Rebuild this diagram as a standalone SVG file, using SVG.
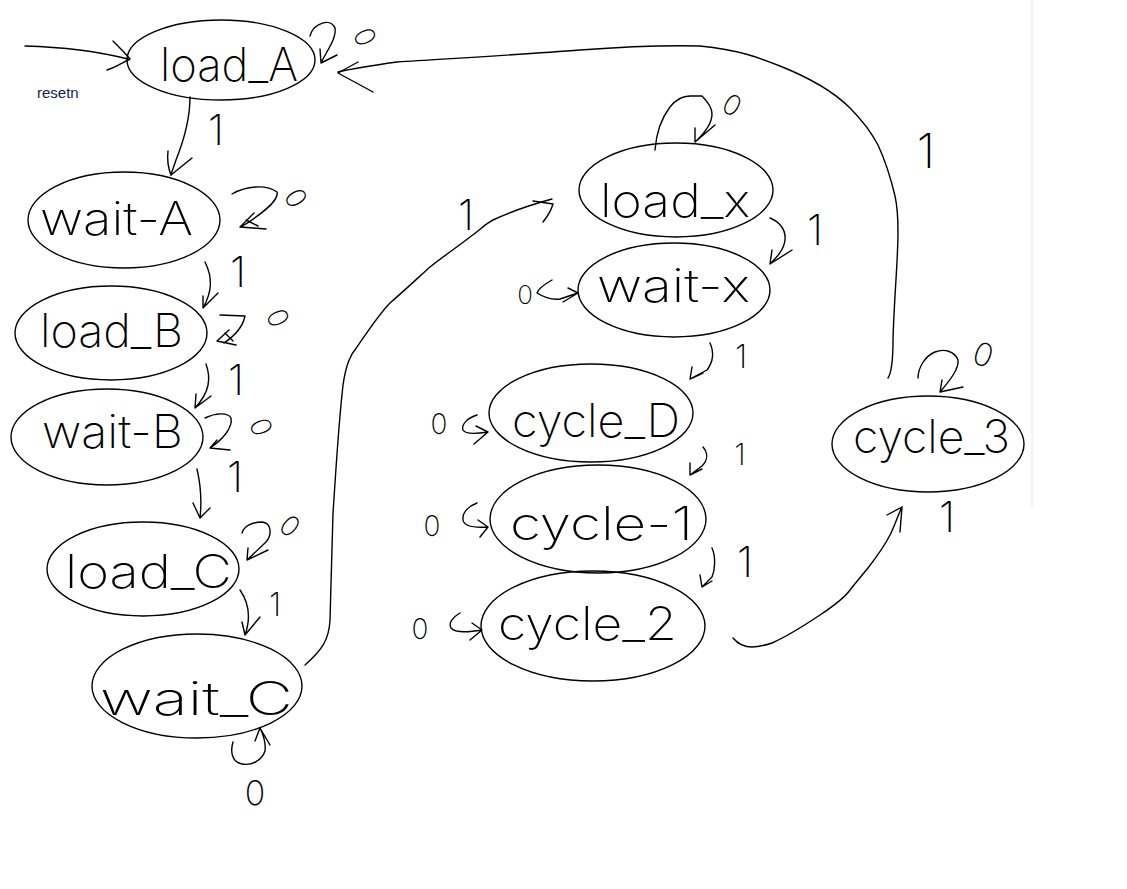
<svg xmlns="http://www.w3.org/2000/svg" width="1127" height="889" viewBox="0 0 1127 889">
  <style>
    .state ellipse { fill: none; stroke: #000; stroke-width: 1.4; }
    .state text { font-family: Inter, "DejaVu Sans", sans-serif; font-weight: 200; font-size: 46px; fill: #000; }
    .wire path { fill: none; stroke: #000; stroke-width: 1.4; stroke-linecap: round; stroke-linejoin: round; }
    .cond { font-family: Inter, "DejaVu Sans", sans-serif; font-weight: 200; fill: #000; text-anchor: middle; }
    .one { font-size: 42px; }
    .zero { font-size: 28px; }
    .note { font-family: "Liberation Sans", Arial, sans-serif; font-size: 15px; fill: #0d1f4d; }
  </style>

  <rect width="1127" height="889" fill="#fff"/>
  <line x1="1032" y1="0" x2="1032" y2="507" stroke="#f1f1f1" stroke-width="1.5"/>

  <!-- states -->
  <g id="load_A" class="state">
    <ellipse cx="221" cy="60" rx="94" ry="40"/>
    <text x="160" y="81" textLength="138" lengthAdjust="spacingAndGlyphs">load_A</text>
  </g>
  <g id="wait_A" class="state">
    <ellipse cx="124" cy="220" rx="96" ry="48"/>
    <text x="40" y="235" textLength="153" lengthAdjust="spacingAndGlyphs">wait-A</text>
  </g>
  <g id="load_B" class="state">
    <ellipse cx="111" cy="333" rx="96" ry="47"/>
    <text x="40" y="347" textLength="143" lengthAdjust="spacingAndGlyphs">load_B</text>
  </g>
  <g id="wait_B" class="state">
    <ellipse cx="107" cy="437" rx="96" ry="48"/>
    <text x="42" y="448" textLength="141" lengthAdjust="spacingAndGlyphs">wait-B</text>
  </g>
  <g id="load_C" class="state">
    <ellipse cx="143" cy="569" rx="96" ry="47"/>
    <text x="65" y="588" textLength="167" lengthAdjust="spacingAndGlyphs">load_C</text>
  </g>
  <g id="wait_C" class="state">
    <ellipse cx="197" cy="686" rx="105" ry="52"/>
    <text x="100" y="715" textLength="193" lengthAdjust="spacingAndGlyphs">wait_C</text>
  </g>
  <g id="load_x" class="state">
    <ellipse cx="676" cy="190" rx="97" ry="47"/>
    <text x="600" y="217" textLength="150" lengthAdjust="spacingAndGlyphs">load_x</text>
  </g>
  <g id="wait_x" class="state">
    <ellipse cx="674" cy="290" rx="96" ry="47"/>
    <text x="597" y="302" textLength="153" lengthAdjust="spacingAndGlyphs">wait-x</text>
  </g>
  <g id="cycle_D" class="state">
    <ellipse cx="591" cy="413" rx="102" ry="49"/>
    <text x="512" y="437" textLength="168" lengthAdjust="spacingAndGlyphs">cycle_D</text>
  </g>
  <g id="cycle_1" class="state">
    <ellipse cx="598" cy="519" rx="108" ry="54"/>
    <text x="510" y="540" textLength="183" lengthAdjust="spacingAndGlyphs">cycle-1</text>
  </g>
  <g id="cycle_2" class="state">
    <ellipse cx="593" cy="626" rx="112" ry="55"/>
    <text x="498" y="640" textLength="179" lengthAdjust="spacingAndGlyphs">cycle_2</text>
  </g>
  <g id="cycle_3" class="state">
    <ellipse cx="928" cy="444" rx="96" ry="48"/>
    <text x="853" y="453" textLength="157" lengthAdjust="spacingAndGlyphs">cycle_3</text>
  </g>

  <!-- transitions -->
  <g id="connectors" class="wire">
    <!-- reset entry -->
    <path d="M25,46 C60,47 100,52 128,59"/>
    <path d="M113,41 C120,48 126,54 130,59 C122,63 114,68 107,70"/>

    <!-- load_A hold -->
    <path d="M310,36 C313,24 330,17 335,28 C337,38 326,52 321,63 L337,55 M320,49 L321,63"/>
    <!-- load_A -> wait_A -->
    <path d="M190,97 C190,118 184,140 176,160 C174,166 172,171 171,175"/>
    <path d="M168,151 C167,160 169,170 171,175 L192,158"/>

    <!-- wait_A hold -->
    <path d="M232,194 C246,186 266,184 277,192 C279,200 262,214 241,227 M254,213 L240,227 L266,229 M246,220 L258,226"/>
    <!-- wait_A -> load_B -->
    <path d="M205,262 C213,278 212,292 203,308 M203,296 L203,308 L218,293"/>

    <!-- load_B hold -->
    <path d="M220,315 L245,316 C243,326 236,335 224,343 M229,330 L217,341 L236,345 M225,333 L233,341"/>
    <!-- load_B -> wait_B -->
    <path d="M206,364 C211,378 210,392 195,408 M196,394 L195,408 L211,396"/>

    <!-- wait_B hold -->
    <path d="M205,418 C215,413 228,412 231,418 C233,428 222,440 210,448 L230,450 M210,448 L217,440"/>
    <!-- wait_B -> load_C -->
    <path d="M197,469 C200,482 202,500 200,518 M193,503 L200,518 L210,508"/>

    <!-- load_C hold -->
    <path d="M242,533 C244,526 252,522 262,522 C272,523 272,535 266,542 L247,560 M248,548 L247,560 L268,550"/>
    <!-- load_C -> wait_C -->
    <path d="M240,590 C249,603 251,618 245,635 M242,622 L245,635 L260,617"/>

    <!-- wait_C hold -->
    <path d="M233,742 C230,752 232,762 242,764 C252,766 262,760 265,751 C266,742 263,734 260,728 M255,741 L260,728 L270,745"/>
    <!-- wait_C -> load_x -->
    <path d="M305,665 C322,650 329,640 330,620 L333,513 C336,470 338,430 343,385 C346,365 350,355 357,347 C370,328 380,313 390,303 C405,290 420,276 430,267 C445,255 460,245 470,237 C480,230 485,224 493,220 C510,212 530,205 552,199"/>
    <path d="M533,201 L553,204 C551,211 547,217 543,222"/>

    <!-- load_x hold -->
    <path d="M655,150 C656,137 660,120 670,107 C677,98 683,96 690,96 L702,96 C708,102 712,108 712,114 C712,122 708,130 695,142 M695,128 L695,142 L715,125"/>
    <!-- load_x -> wait_x -->
    <path d="M770,218 C780,222 786,230 785,240 C784,250 776,258 770,264 M772,250 L770,264 L792,250"/>

    <!-- wait_x hold -->
    <path d="M552,280 C545,284 538,289 537,293 C545,298 553,300 560,299 L578,293 M568,288 L578,293 L563,302"/>
    <!-- wait_x -> cycle_D -->
    <path d="M710,343 C714,352 713,362 707,370 L690,379 M692,367 L690,379 L703,373"/>

    <!-- cycle_D hold -->
    <path d="M477,415 C468,418 461,424 463,430 C465,434 475,434 488,432 M476,426 L488,432 L474,444"/>
    <!-- cycle_D -> cycle_1 -->
    <path d="M703,447 C708,453 708,460 702,466 L690,475 M690,463 L690,475 L702,469"/>

    <!-- cycle_1 hold -->
    <path d="M477,503 C469,506 462,512 463,520 C464,526 474,528 488,527 M478,520 L488,527 L480,537"/>
    <!-- cycle_1 -> cycle_2 -->
    <path d="M712,548 C716,557 715,570 712,577 L702,587 M700,575 L702,587 L712,581"/>

    <!-- cycle_2 hold -->
    <path d="M460,613 C453,617 448,623 451,628 C455,633 470,632 482,630 M472,623 L482,630 L470,640"/>
    <!-- cycle_2 -> cycle_3 -->
    <path d="M733,638 C738,644 744,647 752,647 C760,647 766,645 772,643 C790,635 805,625 820,615 C835,605 845,597 850,590 C858,580 864,573 868,568 C878,555 885,545 890,535 C895,525 898,515 902,507"/>
    <path d="M887,515 L902,507 L900,532"/>

    <!-- cycle_3 hold -->
    <path d="M918,378 C918,368 925,356 935,352 C945,348 955,352 958,360 C959,368 952,378 940,392 M942,380 L940,392 L963,387"/>
    <!-- cycle_3 -> load_A -->
    <path d="M888,378 C892,372 893,360 893,340 C894,300 898,260 898,232 C898,215 897,205 895,196 C890,175 885,160 878,145 C870,130 860,118 850,108 C835,93 810,78 780,66 C760,58 740,50 700,46 C660,45 620,47 580,50 C530,54 460,58 397,62 C375,65 355,68 338,72"/>
    <path d="M358,62 L338,73 L373,92"/>
  </g>

  <!-- transition conditions -->
  <g id="conditions">
    <text class="note" x="37" y="98">resetn</text>

    <text class="cond one" x="216" y="145">1</text>
    <text class="cond one" x="238" y="287">1</text>
    <text class="cond one" x="236" y="395">1</text>
    <text class="cond one" x="235" y="492">1</text>
    <text class="cond one" x="275" y="616" style="font-size:32px">1</text>
    <text class="cond one" x="466" y="230">1</text>
    <text class="cond one" x="815" y="245">1</text>
    <text class="cond one" x="741" y="368" style="font-size:32px">1</text>
    <text class="cond one" x="740" y="465" style="font-size:30px">1</text>
    <text class="cond one" x="745" y="577">1</text>
    <text class="cond one" x="947" y="532">1</text>
    <text class="cond one" x="926" y="168" style="font-size:48px">1</text>

    <text class="cond zero" transform="translate(365,37) rotate(65)" y="10">0</text>
    <text class="cond zero" transform="translate(296,198) rotate(60)" y="10">0</text>
    <text class="cond zero" transform="translate(278,318) rotate(65)" y="10">0</text>
    <text class="cond zero" transform="translate(261,427) rotate(70)" y="10">0</text>
    <text class="cond zero" transform="translate(290,526) rotate(40)" y="10">0</text>
    <text class="cond zero" x="255" y="805" style="font-size:34px">0</text>
    <text class="cond zero" transform="translate(732,105) rotate(30)" y="10">0</text>
    <text class="cond zero" x="525" y="304" style="font-size:26px">0</text>
    <text class="cond zero" x="439" y="434" style="font-size:28px">0</text>
    <text class="cond zero" x="432" y="536" style="font-size:28px">0</text>
    <text class="cond zero" x="420" y="639" style="font-size:28px">0</text>
    <text class="cond zero" transform="translate(983,355) rotate(20)" y="11" style="font-size:32px">0</text>
  </g>
</svg>
